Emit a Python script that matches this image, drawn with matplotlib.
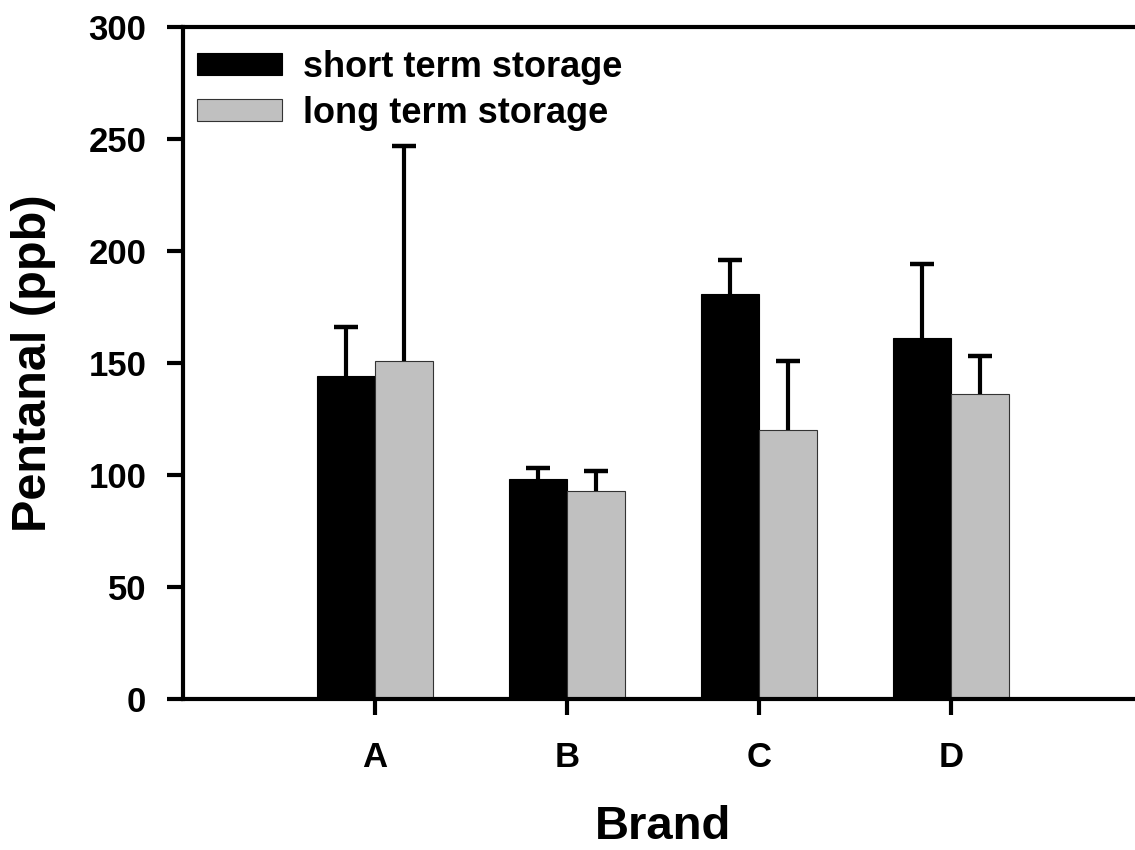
import numpy as np
import matplotlib
matplotlib.use('Agg')
import matplotlib.pyplot as plt

plt.rcParams['font.family'] = ['Liberation Sans', 'DejaVu Sans']
plt.rcParams['font.weight'] = 'bold'

# pentanal per brand, mean and upper error
brands = ['A', 'B', 'C', 'D']
short_term = [144, 98, 181, 161]
short_err = [22, 5, 15, 33]
long_term = [151, 93, 120, 136]
long_err = [96, 9, 31, 17]

x = np.arange(1, len(brands) + 1)
w = 0.3

fig = plt.figure(figsize=(11.35, 8.5), dpi=100)
ax = fig.add_axes([183 / 1135, 151 / 850, 960 / 1135, 672 / 850])

ax.bar(x - w / 2, short_term, w, color='black', edgecolor='black', linewidth=0.8,
       label='short term storage', zorder=2)
ax.bar(x + w / 2, long_term, w, color='#c0c0c0', edgecolor='#333333', linewidth=0.8,
       label='long term storage', zorder=2)

# upper error bars only: stem from bar top plus a cap
for xs, ys, es in [(x - w / 2, short_term, short_err), (x + w / 2, long_term, long_err)]:
    ys = np.array(ys)
    es = np.array(es)
    ax.vlines(xs, ys, ys + es, color='black', linewidth=3, zorder=3)
    ax.plot(xs, ys + es, ls='none', marker='_', ms=17, mew=3.2, color='black', zorder=3)

ax.set_xlim(0, 5)
ax.set_ylim(0, 300)
ax.set_xticks(x)
ax.set_xticklabels(brands)
ax.set_yticks(np.arange(0, 301, 50))

for s in ['left', 'bottom', 'top']:
    ax.spines[s].set_linewidth(3)
ax.spines['right'].set_visible(False)
ax.tick_params(axis='both', direction='out', length=11.5, width=3, labelsize=25)
ax.tick_params(axis='y', pad=15)
ax.tick_params(axis='x', pad=19)

ax.set_xlabel('Brand', fontsize=34, fontweight='bold', va='baseline')
ax.set_ylabel('Pentanal (ppb)', fontsize=35, fontweight='bold')
ax.xaxis.set_label_coords(0.5, -0.209)
ax.yaxis.set_label_coords(-0.132, 0.5)

ax.legend(loc='upper left', bbox_to_anchor=(0.0146, 0.966), frameon=False,
          fontsize=26, handlelength=2.36, handleheight=0.55, handletextpad=0.58,
          labelspacing=0.3, borderpad=0, borderaxespad=0)

fig.savefig('out.png', dpi=100)
